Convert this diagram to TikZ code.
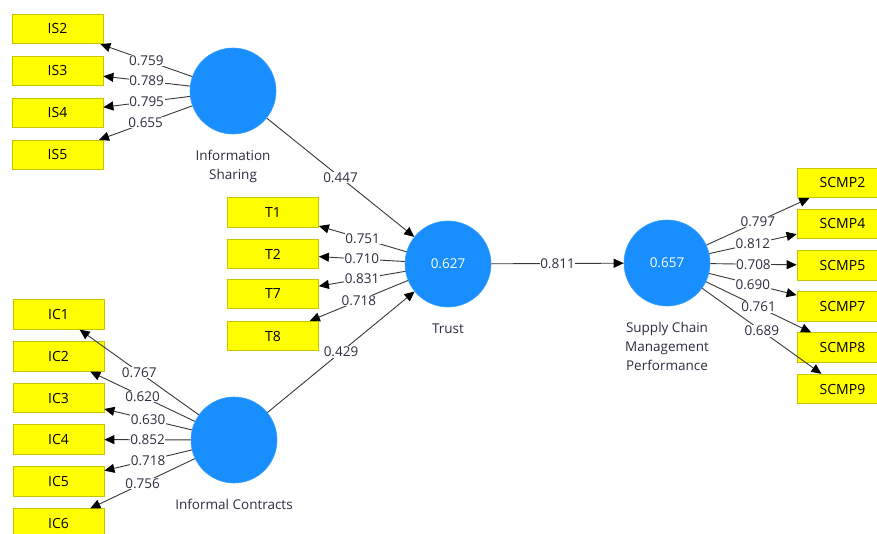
\documentclass[tikz,border=0pt]{standalone}
\usepackage{fontspec}
\setmainfont{Open Sans}
\usetikzlibrary{arrows.meta}

\definecolor{lvblue}{RGB}{24,142,255}
\definecolor{mvyellow}{RGB}{255,255,0}
\definecolor{mvborder}{RGB}{196,196,0}
\definecolor{pathgray}{RGB}{55,55,55}
\definecolor{labgray}{RGB}{45,45,65}

\begin{document}
\begin{tikzpicture}[x=1pt,y=-1pt,
  latent/.style={circle, fill=lvblue, draw=lvblue!85!white, line width=0.6pt,
    minimum size=86pt, inner sep=0pt, text=white, font=\fontsize{13.5}{16}\selectfont},
  indicator/.style={rectangle, fill=mvyellow, draw=mvborder, line width=0.8pt,
    minimum width=91pt, minimum height=29.5pt, inner sep=0pt,
    font=\fontsize{14}{16}\selectfont},
  caption/.style={align=center, text=labgray, anchor=north, inner sep=1pt,
    font=\fontsize{13.5}{19}\selectfont},
  link/.style={draw=pathgray, line width=0.9pt,
    -{Triangle[length=10pt,width=9pt,color=black]}},
  coef/.style={midway, fill=white, inner sep=0.6pt, text=labgray,
    font=\fontsize{13.5}{16}\selectfont}]

\path[use as bounding box, clip] (0,0) rectangle (877,534);

% latent variables
\node[latent] (IS)   at (233,91)  {};
\node[latent] (TR)   at (448,264) {0.627};
\node[latent] (IC)   at (234,440) {};
\node[latent] (SCMP) at (667,263) {0.657};

\node[caption] (ISc)   at ([yshift=-15]IS.south)   {Information\\Sharing};
\node[caption] (TRc)   at ([yshift=-15]TR.south)   {Trust};
\node[caption] (ICc)   at ([yshift=-15]IC.south)   {Informal Contracts};
\node[caption] (SCMPc) at ([yshift=-15]SCMP.south) {Supply Chain\\Management\\Performance};

% indicators: information sharing
\node[indicator] (IS2) at (57.5,29)  {IS2};
\node[indicator] (IS3) at (57.5,71)  {IS3};
\node[indicator] (IS4) at (57.5,113) {IS4};
\node[indicator] (IS5) at (57.5,155) {IS5};

% indicators: trust
\node[indicator] (T1) at (273,212.5) {T1};
\node[indicator] (T2) at (273,254)   {T2};
\node[indicator] (T7) at (273,294)   {T7};
\node[indicator] (T8) at (273,336)   {T8};

% indicators: informal contracts
\node[indicator] (IC1) at (58.5,314.5) {IC1};
\node[indicator] (IC2) at (58.5,356.5) {IC2};
\node[indicator] (IC3) at (58.5,398)   {IC3};
\node[indicator] (IC4) at (58.5,439.5) {IC4};
\node[indicator] (IC5) at (58.5,481.5) {IC5};
\node[indicator] (IC6) at (58.5,523.5) {IC6};

% indicators: supply chain management performance
\node[indicator] (SC2) at (842.5,183)   {SCMP2};
\node[indicator] (SC4) at (842.5,224)   {SCMP4};
\node[indicator] (SC5) at (842.5,265.5) {SCMP5};
\node[indicator] (SC7) at (842.5,306.5) {SCMP7};
\node[indicator] (SC8) at (842.5,347.5) {SCMP8};
\node[indicator] (SC9) at (842.5,389)   {SCMP9};

% outer loadings
\path[link] (IS) -- node[coef]{0.759} (IS2);
\path[link] (IS) -- node[coef]{0.789} (IS3);
\path[link] (IS) -- node[coef]{0.795} (IS4);
\path[link] (IS) -- node[coef]{0.655} (IS5);

\path[link] (TR) -- node[coef]{0.751} (T1);
\path[link] (TR) -- node[coef]{0.710} (T2);
\path[link] (TR) -- node[coef]{0.831} (T7);
\path[link] (TR) -- node[coef]{0.718} (T8);

\path[link] (IC) -- node[coef]{0.767} (IC1);
\path[link] (IC) -- node[coef]{0.620} (IC2);
\path[link] (IC) -- node[coef]{0.630} (IC3);
\path[link] (IC) -- node[coef]{0.852} (IC4);
\path[link] (IC) -- node[coef]{0.718} (IC5);
\path[link] (IC) -- node[coef]{0.756} (IC6);

\path[link] (SCMP) -- node[coef]{0.797} (SC2);
\path[link] (SCMP) -- node[coef]{0.812} (SC4);
\path[link] (SCMP) -- node[coef]{0.708} (SC5);
\path[link] (SCMP) -- node[coef]{0.690} (SC7);
\path[link] (SCMP) -- node[coef]{0.761} (SC8);
\path[link] (SCMP) -- node[coef]{0.689} (SC9);

% structural paths
\path[link] (IS) -- node[coef]{0.447} (TR);
\path[link] (IC) -- node[coef]{0.429} (TR);
\path[link] (TR) -- node[coef]{0.811} (SCMP);

\end{tikzpicture}
\end{document}
